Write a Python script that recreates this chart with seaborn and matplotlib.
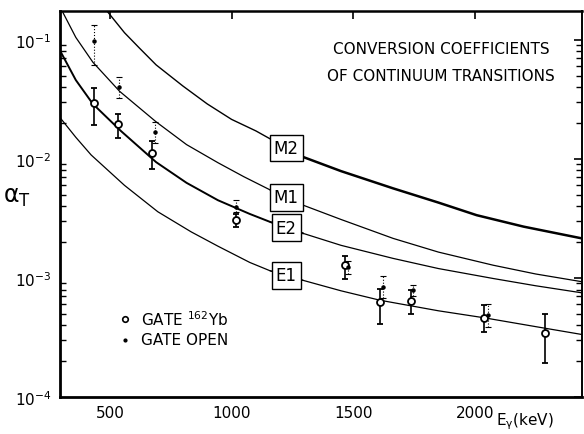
import numpy as np
import pandas as pd
import matplotlib
matplotlib.use("Agg")
import matplotlib.pyplot as plt
import seaborn as sns

# ---- theoretical conversion coefficient curves ----
m2_kev = [488, 560, 620, 690, 800, 900, 1000, 1100, 1165, 1288, 1450, 1664, 1850, 2007, 2200, 2440]
m2_alpha = [0.175, 0.115, 0.086, 0.0617, 0.041, 0.029, 0.0215, 0.0172, 0.0145, 0.0105, 0.0079,
            0.00566, 0.0043, 0.00337, 0.0027, 0.00215]
m1_kev = [307, 360, 430, 540, 690, 815, 944, 1050, 1158, 1294, 1450, 1664, 1850, 2075, 2250, 2440]
m1_alpha = [0.17, 0.105, 0.065, 0.037, 0.0205, 0.0132, 0.0093, 0.0071, 0.0055, 0.00409, 0.0031,
            0.00215, 0.00165, 0.00128, 0.00108, 0.00093]
e2_kev = [297, 360, 430, 545, 690, 815, 944, 1075, 1158, 1294, 1450, 1664, 1850, 2075, 2250, 2440]
e2_alpha = [0.08, 0.046, 0.029, 0.0172, 0.0094, 0.0063, 0.0045, 0.00345, 0.00296, 0.00237, 0.00188,
            0.00146, 0.0012, 0.00099, 0.00086, 0.00075]
e1_kev = [297, 360, 423, 560, 697, 834, 944, 1075, 1158, 1294, 1450, 1610, 1850, 2038, 2250, 2440]
e1_alpha = [0.022, 0.0152, 0.0108, 0.0060, 0.0036, 0.00244, 0.00185, 0.00135, 0.00115, 0.000955,
            0.00078, 0.00065, 0.00053, 0.000463, 0.00039, 0.000335]
curve_names = ["M2", "M1", "E2", "E1"]

# ---- measured points: GATE 162Yb (open circles) ----
yb_kev = [434, 533, 674, 1018, 1466, 1610, 1736, 2038, 2289]
yb_alpha = [0.0294, 0.0195, 0.0112, 0.00306, 0.00129, 0.000628, 0.000641, 0.000463, 0.000344]
yb_hi = [0.0395, 0.0239, 0.0141, 0.00348, 0.00153, 0.000802, 0.000787, 0.000588, 0.000501]
yb_lo = [0.0193, 0.0150, 0.00822, 0.00269, 0.000986, 0.000412, 0.000501, 0.000351, 0.000192]

# ---- measured points: GATE OPEN (dots) ----
op_kev = [434, 536, 686, 1018, 1479, 1621, 1747, 2055]
op_alpha = [0.098, 0.0404, 0.0168, 0.00397, 0.00124, 0.00084, 0.000787, 0.000484]
op_hi = [0.134, 0.049, 0.0204, 0.00451, 0.00138, 0.00103, 0.000879, 0.000608]
op_lo = [0.0612, 0.0327, 0.0137, 0.00356, 0.00109, 0.00068, 0.000706, 0.000391]

title_lines = ["CONVERSION COEFFICIENTS", "OF CONTINUUM TRANSITIONS"]

sns.set_style("white")
plt.rcParams['font.family'] = ['DejaVu Sans']
plt.rcParams['mathtext.default'] = 'regular'
plt.rcParams['text.color'] = 'black'
plt.rcParams['axes.labelcolor'] = 'black'
plt.rcParams['xtick.color'] = 'black'
plt.rcParams['ytick.color'] = 'black'

fig = plt.figure(figsize=(5.84, 4.35), dpi=100)
ax = fig.add_axes([60 / 584, 37 / 435, 522 / 584, 386 / 435])

curves = pd.DataFrame({
    "keV": m2_kev + m1_kev + e2_kev + e1_kev,
    "alpha": m2_alpha + m1_alpha + e2_alpha + e1_alpha,
    "mult": ["M2"] * len(m2_kev) + ["M1"] * len(m1_kev) + ["E2"] * len(e2_kev) + ["E1"] * len(e1_kev),
})
label_x = 1225
# line widths (before label box, after label box)
widths = {"M2": (1.0, 1.8), "M1": (0.9, 0.9), "E2": (1.4, 0.9), "E1": (0.9, 0.9)}
for name in curve_names:
    sub = curves[curves["mult"] == name].reset_index(drop=True)
    split = int((sub["keV"] < label_x).sum())
    left = sub.iloc[:split + 1]
    right = sub.iloc[split - 1:]
    sns.lineplot(data=left, x="keV", y="alpha", color="black", lw=widths[name][0],
                 estimator=None, sort=False, ax=ax, zorder=2)
    sns.lineplot(data=right, x="keV", y="alpha", color="black", lw=widths[name][1],
                 estimator=None, sort=False, ax=ax, zorder=2)
    ly = 10 ** np.interp(label_x, sub["keV"], np.log10(sub["alpha"]))
    ax.text(label_x, ly, name, ha="center", va="center", fontsize=12, zorder=5, color="black",
            bbox=dict(boxstyle="square,pad=0.25", fc="white", ec="black", lw=1.0))

# measured points
yb_a = np.array(yb_alpha)
ax.errorbar(yb_kev, yb_alpha, yerr=[yb_a - np.array(yb_lo), np.array(yb_hi) - yb_a],
            fmt="o", ms=5, mfc="white", mec="black", mew=1.3, ecolor="black",
            elinewidth=1.2, capsize=2, capthick=1.0, zorder=4)
op_a = np.array(op_alpha)
eb2 = ax.errorbar(op_kev, op_alpha, yerr=[op_a - np.array(op_lo), np.array(op_hi) - op_a],
                  fmt="o", ms=2.2, mfc="black", mec="black", ecolor="black",
                  elinewidth=0.8, capsize=2, capthick=0.8, zorder=4)
eb2[2][0].set_linestyle(":")

ax.set_yscale("log")
ax.set_xlim(295, 2440)
ax.set_ylim(1e-4, 0.175)
ax.set_xticks([500, 1000, 1500, 2000])
ax.set_xticklabels(["500", "1000", "1500", "2000"])
ax.set_xlabel("")
ax.set_ylabel("")
ax.tick_params(axis="both", which="major", direction="in", length=6, width=1.2,
               top=True, right=True, labelsize=11, pad=6, colors="black")
ax.tick_params(axis="y", which="minor", direction="in", length=4, width=1.0,
               left=True, right=True)
ax.tick_params(axis="x", which="minor", bottom=False, top=False)
for side, w in [("left", 2.0), ("bottom", 2.0), ("top", 1.8), ("right", 1.4)]:
    ax.spines[side].set_linewidth(w)
    ax.spines[side].set_color("black")

# title text
ax.text(0.73, 0.902, title_lines[0], transform=ax.transAxes, ha="center", va="center", fontsize=11)
ax.text(0.73, 0.832, title_lines[1], transform=ax.transAxes, ha="center", va="center", fontsize=11)

# legend
ax.plot([0.1245], [0.202], "o", ms=4, mfc="white", mec="black", mew=1.2, transform=ax.transAxes)
ax.plot([0.1245], [0.148], "o", ms=2, mfc="black", mec="black", transform=ax.transAxes)
ax.text(0.155, 0.202, "GATE $^{162}$Yb", transform=ax.transAxes, ha="left", va="center", fontsize=11)
ax.text(0.155, 0.148, "GATE OPEN", transform=ax.transAxes, ha="left", va="center", fontsize=11)

# axis labels
ax.text(-0.082, 0.52, r"$\alpha_T$", transform=ax.transAxes, ha="center", va="center", fontsize=17)
ax.text(0.89, -0.062, r"E$_\gamma$(keV)", transform=ax.transAxes, ha="center", va="center", fontsize=11)

fig.savefig("out.png", dpi=100)
